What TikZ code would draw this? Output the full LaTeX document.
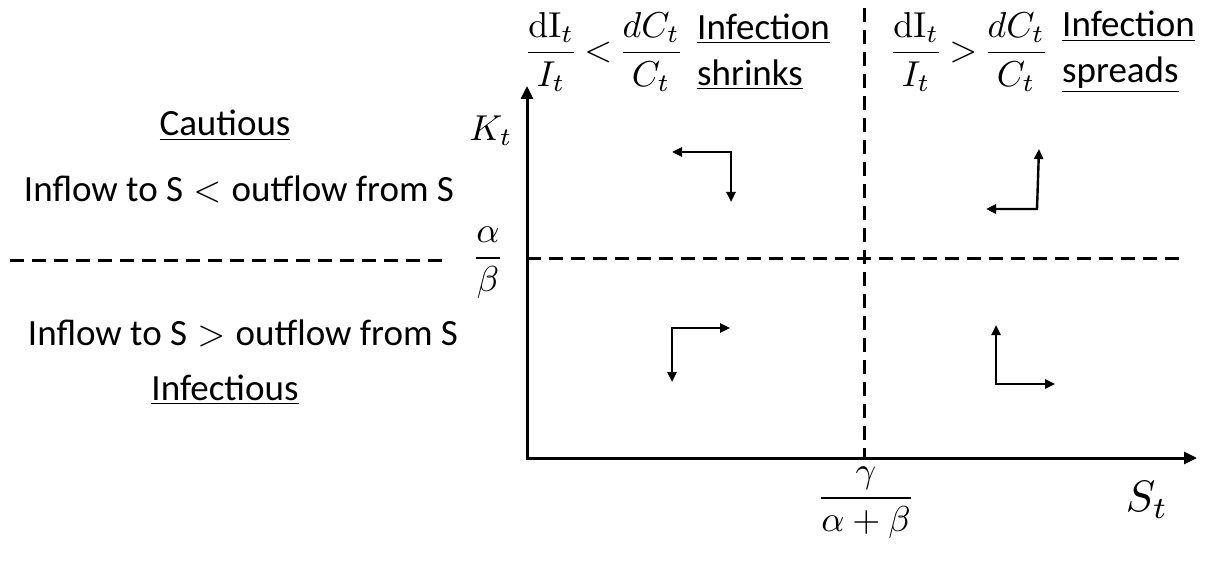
\documentclass[tikz,border=0pt]{standalone}
\usepackage{amsmath}
\usepackage[no-math]{fontspec}
\setmainfont{Carlito}
\usetikzlibrary{arrows.meta}
\newcommand\mbig[1]{\scalebox{3.6}{$#1$}}
\newcommand\rel[1]{\;\scalebox{3.6}{\fontsize{10}{12}\selectfont$#1$}\;}
\tikzset{
  >={Triangle[length=10pt,width=9pt]},
  ax/.style={line width=3pt,line join=miter,{Triangle[length=13pt,width=12pt]}-{Triangle[length=13pt,width=12pt]}},
  dsh/.style={line width=3pt,dash pattern=on 14pt off 8pt},
  fl/.style={line width=2.4pt,<->},
  lbl/.style={inner sep=0pt,font=\fontsize{37}{46}\selectfont},
  mth/.style={inner sep=0pt},
}
\begin{document}
\begin{tikzpicture}[x=1pt,y=-1pt]
\useasboundingbox (0,0) rectangle (1208,567);
% axes and thresholds
\coordinate (O) at (527,458); \coordinate (Ktop) at (527,86); \coordinate (Send) at (1197,458);
\coordinate (gtop) at (864,8); \coordinate (gbot) at (864,458);
\coordinate (ab1) at (527,258); \coordinate (ab2) at (1184,258);
\coordinate (lf1) at (10,260); \coordinate (lf2) at (445,260);
\draw[ax] (Ktop) -- (O) -- (Send);
\draw[dsh] (gtop) -- (gbot);
\draw[dsh] (ab1) -- (ab2);
\draw[dsh] (lf1) -- (lf2);
% flow directions
\coordinate (tl1) at (672,152); \coordinate (tlc) at (731,152); \coordinate (tl2) at (731,202);
\coordinate (tr1) at (986,209); \coordinate (trc) at (1037,209); \coordinate (tr2) at (1039,149);
\coordinate (bl1) at (730,328); \coordinate (blc) at (672,328); \coordinate (bl2) at (672,382);
\coordinate (br1) at (996,325); \coordinate (brc) at (996,384); \coordinate (br2) at (1055,384);
\draw[fl] (tl1) -- (tlc) -- (tl2);
\draw[fl] (tr1) -- (trc) -- (tr2);
\draw[fl] (bl1) -- (blc) -- (bl2);
\draw[fl] (br1) -- (brc) -- (br2);
% axis labels
\node[mth] (Kt) at (491,131) {\mbig{K_t}};
\node[mth] (St) at (1147,500) {\scalebox{4.4}{$S_t$}};
\node[mth] (ab) at (488,263) {\mbig{\dfrac{\alpha}{\beta}}};
\node[mth] (gab) at (866,503) {\mbig{\dfrac{\gamma}{\alpha+\beta}}};
% top
\node[mth] (fl1) at (604,52) {\mbig{\dfrac{\mathrm{dI}_t}{I_t}\,{<}\,\dfrac{dC_t}{C_t}}};
\node[lbl,align=left,anchor=west] (shr) at (697,52) {\underline{Infection}\\\underline{shrinks}};
\node[mth] (fl2) at (969,52) {\mbig{\dfrac{\mathrm{dI}_t}{I_t}\,{>}\,\dfrac{dC_t}{C_t}}};
\node[lbl,align=left,anchor=west] (spr) at (1062,52) {\underline{Infection}\\\underline{spreads}};
% left
\node[lbl,anchor=base] (caut) at (225,136) {\underline{Cautious}};
\node[lbl,anchor=base] (inlt) at (239,201) {Inflow to S\rel{<}outflow from S};
\node[lbl,anchor=base] (ingt) at (243,345) {Inflow to S\rel{>}outflow from S};
\node[lbl,anchor=base] (infc) at (225,400) {\underline{Infectious}};
\end{tikzpicture}
\end{document}
